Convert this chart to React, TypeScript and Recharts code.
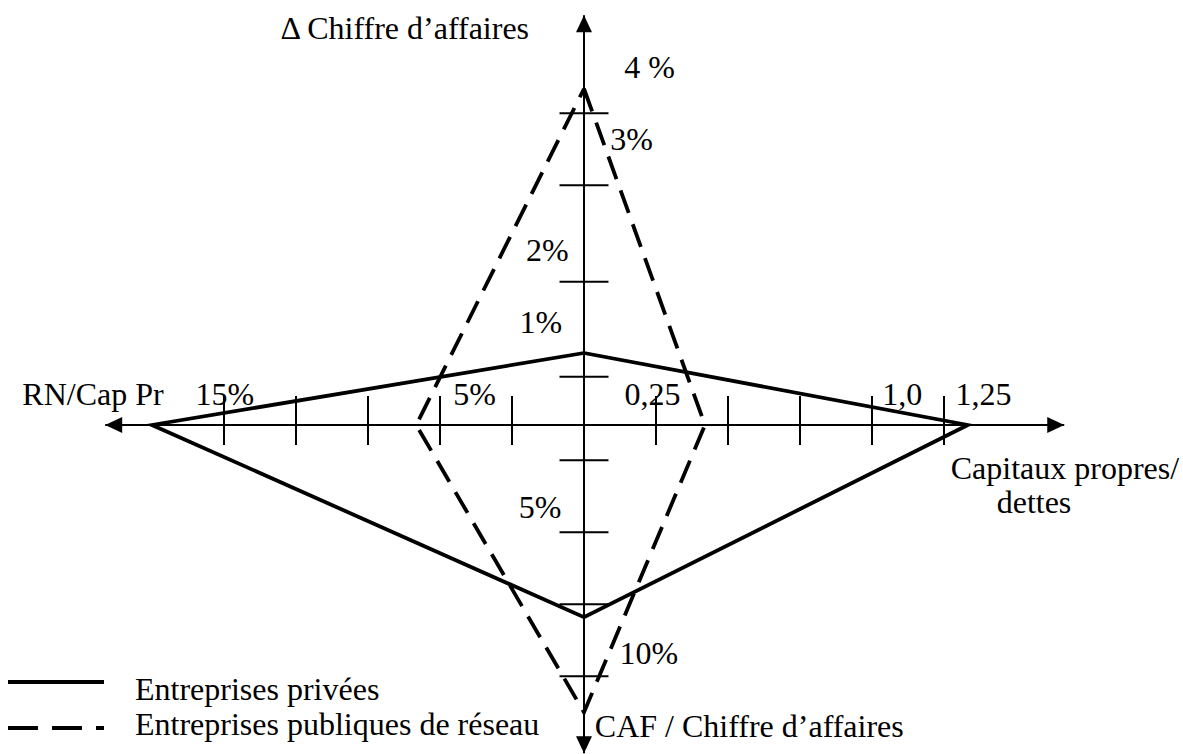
import { ScatterChart, Scatter, XAxis, YAxis, ReferenceLine } from "recharts";

// All values are in graduations of the drawing (one graduation = one tick step).
// Each profile gives its vertex on: up, right, down, left axis.
const seriesNames = ["Entreprises privées", "Entreprises publiques de réseau"];
const privees = [1.0, 5.33, 2.67, 6.0];
const publiques = [4.67, 1.68, 3.99, 2.33];

// tick marks on each half axis
const ticksUp = [0.67, 1.99, 3.33, 4.33];
const ticksDown = [0.49, 1.49, 2.49, 3.49];
const ticksRight = [1, 2, 3, 4, 5];
const ticksLeft = [1, 2, 3, 4, 5];

// where the arrows end: up, right, down, left
const axisEnds = [5.69, 6.67, 4.56, 6.65];

// axis titles and graduation labels
const annotations = [
  { x: -2.49, y: 5.51, text: "Δ Chiffre d’affaires" },
  { x: 0.91, y: 4.97, text: "4 %" },
  { x: 0.66, y: 3.97, text: "3%" },
  { x: -0.51, y: 2.43, text: "2%" },
  { x: -0.6, y: 1.42, text: "1%" },
  { x: -6.82, y: 0.42, text: "RN/Cap Pr" },
  { x: -4.99, y: 0.42, text: "15%" },
  { x: -1.52, y: 0.42, text: "5%" },
  { x: 0.95, y: 0.42, text: "0,25" },
  { x: 4.42, y: 0.42, text: "1,0" },
  { x: 5.55, y: 0.42, text: "1,25" },
  { x: 6.68, y: -0.6, text: "Capitaux propres/" },
  { x: 6.25, y: -1.08, text: "dettes" },
  { x: -0.61, y: -1.15, text: "5%" },
  { x: 0.9, y: -3.17, text: "10%" },
  { x: 0.15, y: -4.19, text: "CAF / Chiffre d’affaires", anchor: "start" },
];

const W = 1183;
const H = 754;
const CX = 584;
const CY = 425;
const STEP = 72;
const FONT = "'Liberation Serif', 'Times New Roman', serif";

const toPoints = (v: number[]) => [
  { x: 0, y: v[0] },
  { x: v[1], y: 0 },
  { x: 0, y: -v[2] },
  { x: -v[3], y: 0 },
  { x: 0, y: v[0] },
];

const arrows = [
  { x: 0, y: axisEnds[0], rot: 0 },
  { x: axisEnds[1], y: 0, rot: 90 },
  { x: 0, y: -axisEnds[2], rot: 180 },
  { x: -axisEnds[3], y: 0, rot: 270 },
];

const Arrow = (p: any) => (
  <polygon
    points="0,0 -8,17 8,17"
    fill="#000"
    transform={`translate(${p.cx},${p.cy}) rotate(${p.payload.rot})`}
  />
);

const Label = (p: any) => (
  <text
    x={p.cx}
    y={p.cy}
    dy="0.33em"
    textAnchor={p.payload.anchor ?? "middle"}
    fontFamily={FONT}
    fontSize={32}
    fill="#000"
  >
    {p.payload.text}
  </text>
);

const Nothing = () => <g />;

export default function App() {
  const up = 29 / STEP;
  const down = 20 / STEP;
  const half = 24.5 / STEP;
  return (
    <div style={{ position: "absolute", left: 0, top: 0, width: W, height: H, background: "#fff" }}>
      <ScatterChart width={W} height={H} margin={{ top: 0, right: 0, bottom: 0, left: 0 }}>
        <XAxis type="number" dataKey="x" hide domain={[-CX / STEP, (W - CX) / STEP]} allowDataOverflow />
        <YAxis type="number" dataKey="y" hide domain={[-(H - CY) / STEP, CY / STEP]} allowDataOverflow />

        <ReferenceLine segment={[{ x: -axisEnds[3], y: 0 }, { x: axisEnds[1], y: 0 }]} stroke="#000" strokeWidth={2} />
        <ReferenceLine segment={[{ x: 0, y: -axisEnds[2] }, { x: 0, y: axisEnds[0] }]} stroke="#000" strokeWidth={2} />
        {[...ticksRight, ...ticksLeft.map((t) => -t)].map((t) => (
          <ReferenceLine key={`h${t}`} segment={[{ x: t, y: up }, { x: t, y: -down }]} stroke="#000" strokeWidth={2} />
        ))}
        {[...ticksUp, ...ticksDown.map((t) => -t)].map((t) => (
          <ReferenceLine key={`v${t}`} segment={[{ x: -half, y: t }, { x: half, y: t }]} stroke="#000" strokeWidth={2} />
        ))}

        <Scatter
          name={seriesNames[0]}
          data={toPoints(privees)}
          line={{ stroke: "#000", strokeWidth: 3.8, strokeLinejoin: "miter" }}
          shape={Nothing}
          isAnimationActive={false}
        />
        <Scatter
          name={seriesNames[1]}
          data={toPoints(publiques)}
          line={{ stroke: "#000", strokeWidth: 3.8, strokeDasharray: "24 12", strokeLinejoin: "miter" }}
          shape={Nothing}
          isAnimationActive={false}
        />
        <Scatter data={arrows} shape={Arrow} isAnimationActive={false} />
        <Scatter data={annotations} shape={Label} isAnimationActive={false} />
      </ScatterChart>

      <svg width={600} height={94} style={{ position: "absolute", left: 0, top: 660 }}>
        <line x1={8} x2={104} y1={22} y2={22} stroke="#000" strokeWidth={4} />
        <line x1={8} x2={104} y1={68} y2={68} stroke="#000" strokeWidth={4} strokeDasharray="30 14" />
        {seriesNames.map((n, i) => (
          <text key={n} x={135} y={29 + i * 35} dy="0.33em" fontFamily={FONT} fontSize={32} fill="#000">
            {n}
          </text>
        ))}
      </svg>
    </div>
  );
}
